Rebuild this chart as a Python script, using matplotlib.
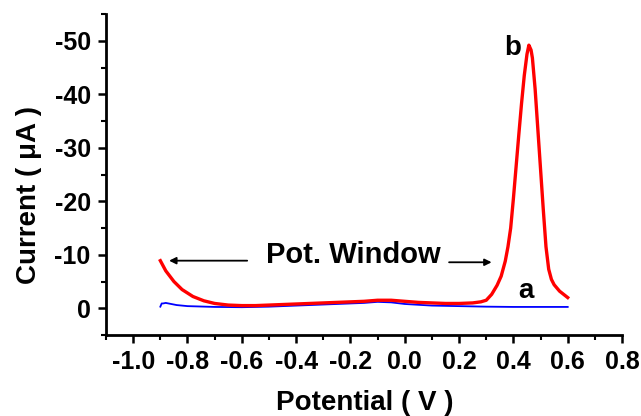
import numpy as np
import matplotlib.pyplot as plt
from matplotlib.ticker import MultipleLocator

plt.rcParams['font.family'] = ['Liberation Sans', 'DejaVu Sans']
plt.rcParams['font.weight'] = 'bold'
plt.rcParams['axes.unicode_minus'] = False

# curve b (red)
b_x = [-0.90, -0.88, -0.85, -0.82, -0.78, -0.74, -0.70, -0.65, -0.60, -0.55,
       -0.50, -0.40, -0.30, -0.20, -0.15, -0.10, -0.05, 0.00, 0.05, 0.10,
       0.15, 0.20, 0.25, 0.28, 0.30, 0.32, 0.34, 0.355, 0.37, 0.38,
       0.39, 0.40, 0.41, 0.42, 0.43, 0.44, 0.45, 0.457, 0.465, 0.47,
       0.48, 0.49, 0.50, 0.51, 0.52, 0.53, 0.54, 0.55, 0.57, 0.60]
b_y = [-8.9, -7.0, -5.0, -3.5, -2.2, -1.4, -0.9, -0.6, -0.5, -0.5,
       -0.6, -0.8, -1.0, -1.2, -1.3, -1.5, -1.5, -1.3, -1.1, -1.0,
       -0.9, -0.9, -1.0, -1.2, -1.5, -2.6, -4.3, -6.0, -8.8, -11.5,
       -15.0, -20.5, -26.5, -32.5, -38.3, -43.5, -47.5, -49.2, -48.3, -46.8,
       -41.0, -33.5, -26.0, -18.5, -11.5, -7.3, -5.4, -4.4, -3.2, -2.0]

# curve a (blue)
a_x = [-0.90, -0.895, -0.89, -0.88, -0.86, -0.84, -0.80, -0.70, -0.60, -0.50,
       -0.40, -0.30, -0.20, -0.15, -0.10, -0.05, 0.00, 0.10, 0.20, 0.30,
       0.40, 0.50, 0.60]
a_y = [-0.3, -0.9, -0.9, -1.0, -0.8, -0.6, -0.4, -0.25, -0.2, -0.3,
       -0.5, -0.7, -0.9, -1.0, -1.2, -1.1, -0.8, -0.5, -0.4, -0.3,
       -0.25, -0.25, -0.25]

x_ticks = [-1.0, -0.8, -0.6, -0.4, -0.2, 0.0, 0.2, 0.4, 0.6, 0.8]
x_labels = ['-1.0', '-0.8', '-0.6', '-0.4', '-0.2', '0.0', '0.2', '0.4', '0.6', '0.8']
y_ticks = [0, -10, -20, -30, -40, -50]

fig = plt.figure(figsize=(6.41, 4.16), dpi=100)
ax = fig.add_axes([0.1654, 0.1947, 0.805, 0.7713])

ax.plot(a_x, a_y, color='#0000ff', lw=1.3)
ax.plot(b_x, b_y, color='#ff0000', lw=2.4)

ax.set_xlim(-1.1, 0.8)
ax.set_ylim(5, -55)

ax.xaxis.set_minor_locator(MultipleLocator(0.1))
ax.yaxis.set_minor_locator(MultipleLocator(5))
ax.set_xticks(x_ticks)
ax.set_xticklabels(x_labels)
ax.set_yticks(y_ticks)

for s in ['top', 'right']:
    ax.spines[s].set_visible(False)
for s in ['left', 'bottom']:
    ax.spines[s].set_linewidth(2.0)

ax.tick_params(which='major', direction='out', length=6, width=1.8, labelsize=18, pad=5)
ax.tick_params(which='minor', direction='out', length=3.5, width=1.5)

ax.set_xlabel('Potential ( V )', fontsize=20, fontweight='bold')
ax.set_ylabel('Current ( \u03bcA )', fontsize=20, fontweight='bold')
ax.xaxis.set_label_coords(0.502, -0.172)
ax.yaxis.set_label_coords(-0.125, 0.436)

ax.text(-0.19, -10.0, 'Pot. Window', fontsize=21, fontweight='bold', ha='center', va='center')
ax.annotate('', xy=(-0.878, -8.9), xytext=(-0.57, -8.9),
            arrowprops=dict(arrowstyle='-|>', color='k', lw=1.3, mutation_scale=10))
ax.annotate('', xy=(0.33, -8.6), xytext=(0.153, -8.6),
            arrowprops=dict(arrowstyle='-|>', color='k', lw=1.3, mutation_scale=10))

ax.text(0.398, -48.7, 'b', fontsize=20, fontweight='bold', ha='center', va='center')
ax.text(0.446, -3.2, 'a', fontsize=20, fontweight='bold', ha='center', va='center')

fig.savefig('out.png', dpi=100)
